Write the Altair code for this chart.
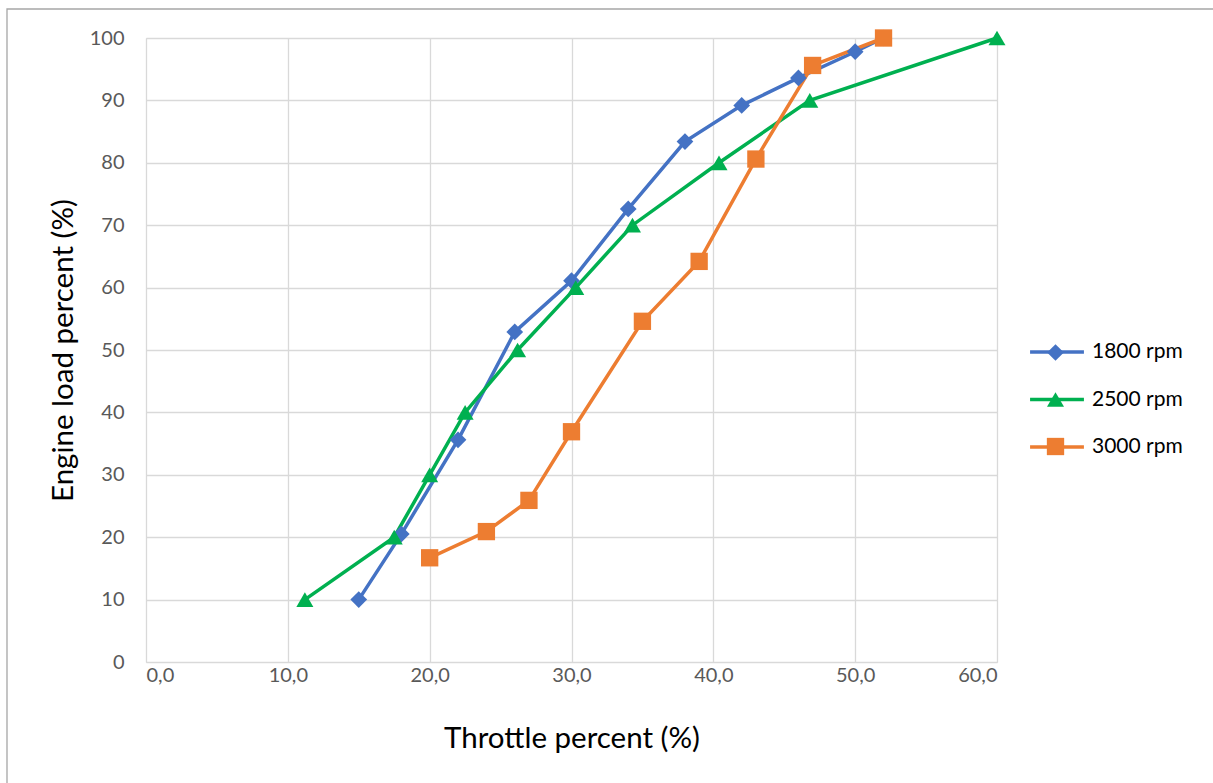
import altair as alt
import pandas as pd

series_names = ["1800 rpm", "2500 rpm", "3000 rpm"]
colors = ["#4472C4", "#00B050", "#ED7D31"]
shapes = ["diamond", "triangle-up", "square"]
marker_sizes = [280, 300, 320]

x_1800 = [15.0, 18.0, 22.0, 26.0, 30.0, 34.0, 38.0, 42.0, 46.0, 50.0, 52.0]
y_1800 = [10.0, 20.5, 35.6, 52.9, 61.1, 72.6, 83.4, 89.2, 93.6, 97.8, 100.0]

x_2500 = [11.2, 17.5, 20.0, 22.5, 26.2, 30.3, 34.3, 40.4, 46.8, 60.0]
y_2500 = [10, 20, 30, 40, 50, 60, 70, 80, 90, 100]

x_3000 = [20.0, 24.0, 27.0, 30.0, 35.0, 39.0, 43.0, 47.0, 52.0]
y_3000 = [16.7, 20.9, 25.9, 36.9, 54.6, 64.2, 80.6, 95.6, 100.0]

x_ticks = [0, 10, 20, 30, 40, 50, 60]
y_ticks = [0, 10, 20, 30, 40, 50, 60, 70, 80, 90, 100]

rows = []
for name, xs, ys in [(series_names[0], x_1800, y_1800),
                     (series_names[1], x_2500, y_2500),
                     (series_names[2], x_3000, y_3000)]:
    for i, (xv, yv) in enumerate(zip(xs, ys)):
        rows.append({"series": name, "x": xv, "y": yv, "order": i})
df = pd.DataFrame(rows)

FONT = "Lato"
W, H = 851, 624
LEG_X = 882
LEG_Y = 285

xenc = alt.X("x:Q", scale=alt.Scale(domain=[0, 60], nice=False),
             axis=alt.Axis(values=x_ticks, title="Throttle percent (%)",
                           labelExpr="replace(format(datum.value, '.1f'), '.', ',')",
                           grid=True, gridColor="#D9D9D9", gridWidth=1.3,
                           domain=False, ticks=False, labelPadding=3,
                           labelFontSize=20, labelColor="#595959", labelFont=FONT,
                           titleFontSize=29.5, titleFont=FONT, titleColor="#000000",
                           titleFontWeight="normal", titleY=76, titleBaseline="middle"))
yenc = alt.Y("y:Q", scale=alt.Scale(domain=[0, 100], nice=False),
             axis=alt.Axis(values=y_ticks, title="Engine load percent (%)",
                           grid=True, gridColor="#D9D9D9", gridWidth=1.3,
                           domain=False, ticks=False, labelPadding=22,
                           labelFontSize=20, labelColor="#595959", labelFont=FONT,
                           titleFontSize=29.5, titleFont=FONT, titleColor="#000000",
                           titleFontWeight="normal", titleX=-83, titleY=H / 2,
                           titleAngle=-90, titleAlign="center", titleBaseline="middle"))

color_scale = alt.Scale(domain=series_names, range=colors)
shape_scale = alt.Scale(domain=series_names, range=shapes)
size_scale = alt.Scale(domain=series_names, range=marker_sizes)

base = alt.Chart(df)

lines = base.mark_line(strokeWidth=3.5).encode(
    x=xenc, y=yenc, order="order:Q",
    color=alt.Color("series:N", scale=color_scale,
                    legend=alt.Legend(title=None, orient="none", legendX=LEG_X,
                                      legendY=LEG_Y, symbolType="stroke",
                                      symbolSize=2900, symbolStrokeWidth=3.5,
                                      labelFontSize=21, labelFont=FONT, labelColor="#000000",
                                      rowPadding=8.5, labelOffset=6)),
)

pt_legend = alt.Legend(title=None, orient="none", legendX=LEG_X + 17, legendY=LEG_Y + 19,
                       labelFontSize=21, labelFont=FONT, labelOpacity=0,
                       labelExpr="''", rowPadding=25, labelOffset=0, symbolOffset=0,
                       symbolSize=260)

points = base.mark_point(filled=True, opacity=1).encode(
    x=xenc, y=yenc,
    color=alt.Color("series:N", scale=color_scale, legend=pt_legend),
    shape=alt.Shape("series:N", scale=shape_scale, legend=pt_legend),
    size=alt.Size("series:N", scale=size_scale, legend=None),
)

border = alt.Chart(pd.DataFrame({"a": [0]})).mark_rect(
    fill=None, stroke="#A6A6A6", strokeWidth=1.3).encode(
    x=alt.value(-139), x2=alt.value(W + 300), y=alt.value(-29), y2=alt.value(H + 300))

chart = alt.layer(border, lines, points).resolve_legend(
    color="independent", shape="independent", size="independent"
).properties(
    width=W, height=H,
    autosize=alt.AutoSizeParams(type="none"),
    padding={"left": 146, "top": 38, "right": 1213 - 146 - W, "bottom": 783 - 38 - H},
).configure_view(stroke=None).configure(background="white")

chart.save("out.html", embed_options={"renderer": "svg", "actions": False})
